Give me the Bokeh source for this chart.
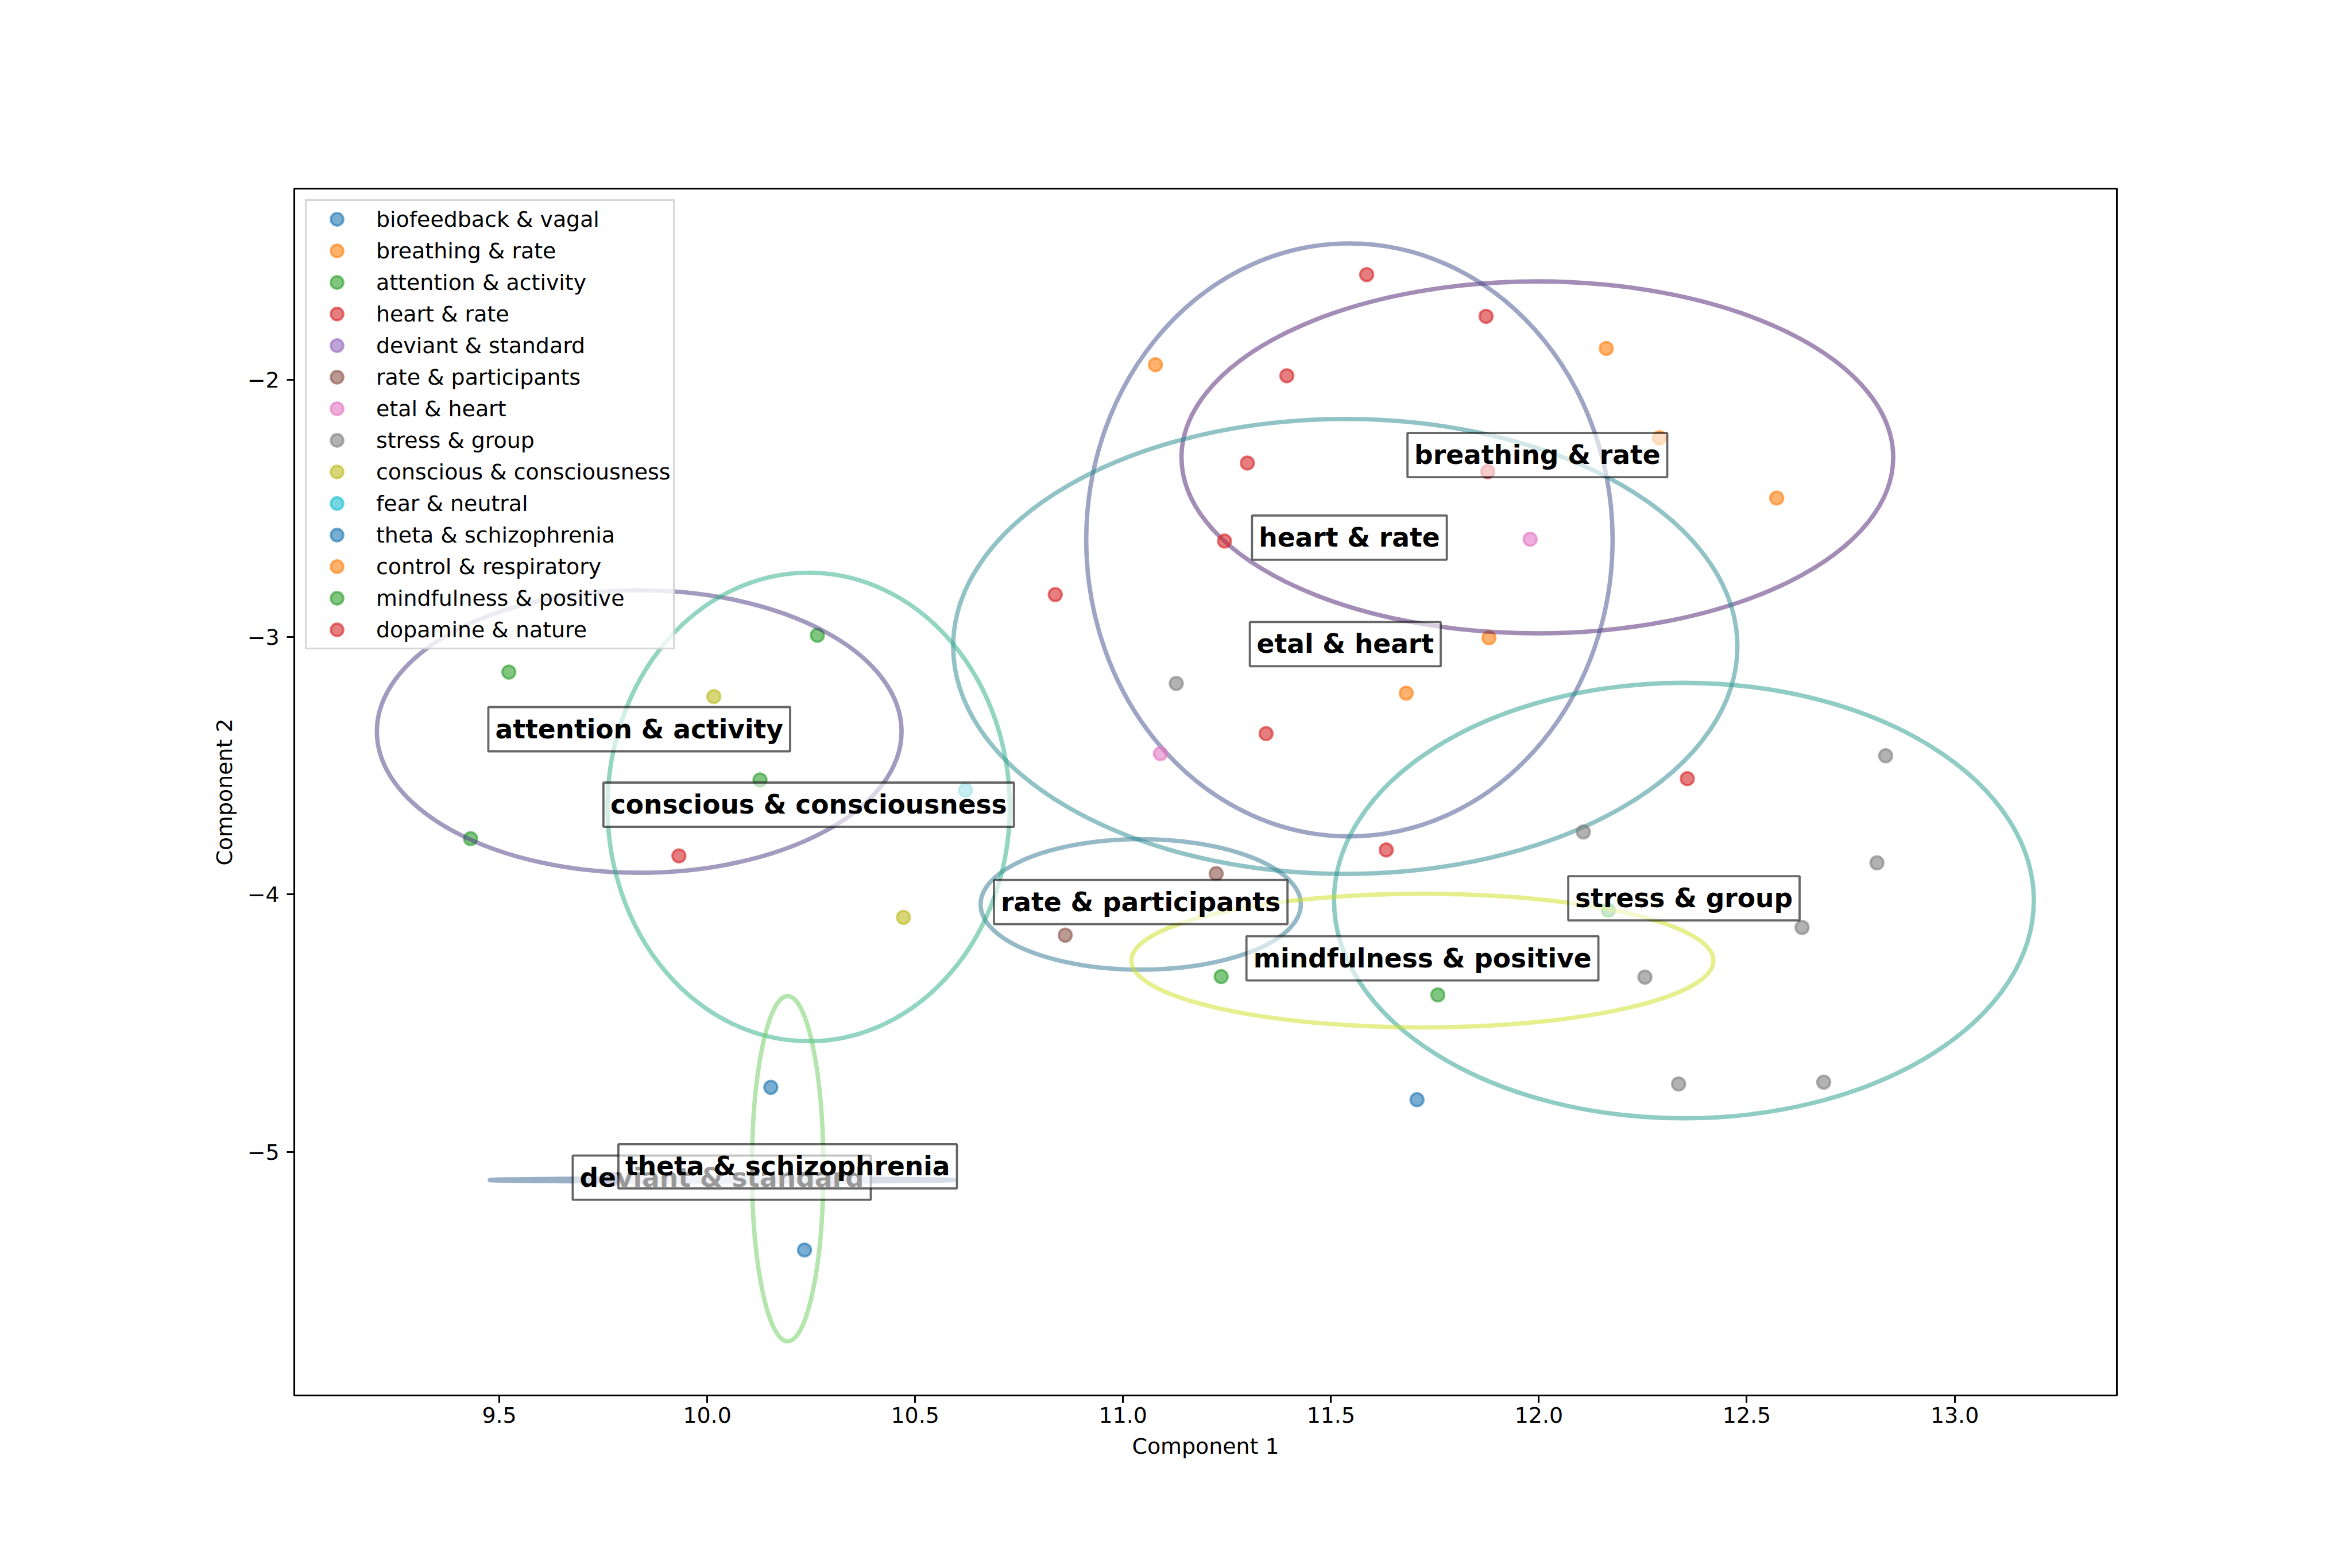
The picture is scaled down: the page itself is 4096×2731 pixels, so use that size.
import numpy as np
from bokeh.plotting import figure
from bokeh.models import Range1d, FixedTicker, ColumnDataSource, Legend, LegendItem
from bokeh.palettes import Viridis256
from bokeh.embed import file_html
from bokeh.resources import INLINE
from bokeh.core.properties import value

# ---------------- data ----------------
topics = [
    "biofeedback & vagal", "breathing & rate", "attention & activity", "heart & rate",
    "deviant & standard", "rate & participants", "etal & heart", "stress & group",
    "conscious & consciousness", "fear & neutral", "theta & schizophrenia",
    "control & respiratory", "mindfulness & positive", "dopamine & nature",
]

point_topic = (
    ["biofeedback & vagal"] * 1
    + ["breathing & rate"] * 5
    + ["attention & activity"] * 4
    + ["heart & rate"] * 10
    + ["deviant & standard"] * 2
    + ["rate & participants"] * 2
    + ["etal & heart"] * 2
    + ["stress & group"] * 8
    + ["conscious & consciousness"] * 2
    + ["fear & neutral"] * 1
    + ["theta & schizophrenia"] * 2
    + ["control & respiratory"] * 1
    + ["mindfulness & positive"] * 3
    + ["dopamine & nature"] * 1
)

point_x = [
    11.707,
    11.078, 12.162, 12.290, 12.572, 11.880,
    9.523, 10.265, 10.127, 9.431,
    11.586, 11.873, 11.394, 11.299, 11.244, 10.837, 11.344, 11.633, 12.357, 11.877,
    9.772, 10.298,
    11.224, 10.861,
    11.979, 11.090,
    11.128, 12.107, 12.834, 12.813, 12.633, 12.255, 12.336, 12.685,
    10.016, 10.472,
    10.621,
    10.153, 10.234,
    11.681,
    11.236, 11.757, 12.167,
    9.932,
]

point_y = [
    -4.797,
    -1.942, -1.879, -2.226, -2.460, -3.003,
    -3.136, -2.993, -3.555, -3.783,
    -1.592, -1.754, -1.985, -2.324, -2.627, -2.835, -3.375, -3.827, -3.550, -2.357,
    -5.106, -5.112,
    -3.919, -4.158,
    -2.620, -3.453,
    -3.180, -3.757, -3.461, -3.877, -4.128, -4.321, -4.736, -4.729,
    -3.231, -4.089,
    -3.595,
    -4.749, -5.381,
    -3.218,
    -4.319, -4.390, -4.061,
    -3.850,
]

x_ticks = [9.5, 10.0, 10.5, 11.0, 11.5, 12.0, 12.5, 13.0]
x_tick_labels = ["9.5", "10.0", "10.5", "11.0", "11.5", "12.0", "12.5", "13.0"]
y_ticks = [-2, -3, -4, -5]
y_tick_labels = ["\u22122", "\u22123", "\u22124", "\u22125"]

# ---------------- style ----------------
S = 0.91
FONT = "DejaVu Sans"
PT = 300.0 / 72.0 * S  # one matplotlib point in output pixels
tab10 = ["#1f77b4", "#ff7f0e", "#2ca02c", "#d62728", "#9467bd",
         "#8c564b", "#e377c2", "#7f7f7f", "#bcbd22", "#17becf"]
n = len(topics)
colors = [tab10[i % 10] for i in range(n)]
ell_colors = [Viridis256[min(255, int(i / (n - 1) * 256))] for i in range(n)]

p = figure(
    width=4096, height=2730,
    x_range=Range1d(9.007, 13.390), y_range=Range1d(-5.946, -1.258),
    output_backend="svg", toolbar_location=None,
    min_border_left=512, min_border_right=410, min_border_top=328, min_border_bottom=300,
)
p.grid.visible = False
p.background_fill_color = "white"
p.border_fill_color = "white"
p.outline_line_color = "black"
p.outline_line_width = 0.8 * PT

for ax in (p.xaxis[0], p.yaxis[0]):
    ax.axis_line_width = 0.8 * PT
    ax.axis_line_color = "black"
    ax.major_tick_line_width = 0.8 * PT
    ax.major_tick_line_color = "black"
    ax.major_tick_out = int(round(3.5 * PT))
    ax.major_tick_in = 0
    ax.minor_tick_line_color = None
    ax.major_label_text_font = FONT
    ax.major_label_text_font_size = f"{10 * PT:.1f}px"
    ax.major_label_text_color = "black"
    ax.axis_label_text_font = FONT
    ax.axis_label_text_font_size = f"{10 * PT:.1f}px"
    ax.axis_label_text_font_style = "normal"
    ax.axis_label_text_color = "black"

p.xaxis.ticker = FixedTicker(ticks=x_ticks)
p.xaxis.major_label_overrides = dict(zip(x_ticks, x_tick_labels))
p.yaxis.ticker = FixedTicker(ticks=y_ticks)
p.yaxis.major_label_overrides = dict(zip(y_ticks, y_tick_labels))
p.xaxis.axis_label = "Component 1"
p.yaxis.axis_label = "Component 2"
p.xaxis.major_label_standoff = int(round(3.5 * PT - 6))
p.yaxis.major_label_standoff = int(round(3.5 * PT))
p.xaxis.axis_label_standoff = int(round(3.5 * PT + 3))
p.yaxis.axis_label_standoff = int(round(4 * PT))

items = []
lab_x, lab_y, lab_t = [], [], []
px = np.array(point_x)
py = np.array(point_y)
pt = np.array(point_topic)
for i, t in enumerate(topics):
    xs = px[pt == t]
    ys = py[pt == t]
    r = p.scatter(xs, ys, size=6 * PT, marker="circle",
                  fill_color=colors[i], line_color=colors[i],
                  fill_alpha=0.6, line_alpha=0.6, line_width=1.0 * PT)
    items.append(LegendItem(label=t, renderers=[r]))
    if len(xs) >= 2:
        cx, cy = xs.mean(), ys.mean()
        w = 3 * xs.std(ddof=1)
        h = 3 * ys.std(ddof=1)
        p.ellipse(x=[cx], y=[cy], width=[w], height=[h], angle=0,
                  fill_color=None, line_color=ell_colors[i], line_alpha=0.5,
                  line_width=2 * PT)
        lab_x.append(cx)
        lab_y.append(cy)
        lab_t.append(t)

src = ColumnDataSource(dict(x=lab_x, y=lab_y, text=lab_t))
p.text(x="x", y="y", text="text", source=src,
       text_font=value(FONT), text_font_size=f"{12 * PT:.1f}px",
       text_font_style="bold", text_color="black",
       text_align="center", text_baseline="middle",
       y_offset=-4,
       background_fill_color="white", background_fill_alpha=0.6,
       border_line_color="black", border_line_alpha=0.6, border_line_width=1.0 * PT,
       padding=12)

legend = Legend(items=items, location="top_left")
legend.margin = int(round(0.5 * 10 * PT))
legend.padding = 4
legend.spacing = 0
legend.glyph_width = 97
legend.glyph_height = 55
legend.label_height = 55
legend.label_standoff = 20
legend.label_text_font = FONT
legend.label_text_font_size = f"{10 * PT:.1f}px"
legend.label_text_color = "black"
legend.border_line_color = "#cccccc"
legend.border_line_alpha = 0.8
legend.border_line_width = 1.0 * PT
legend.background_fill_color = "white"
legend.background_fill_alpha = 0.8
p.add_layout(legend)

open("out.html", "w").write(file_html(p, INLINE))
